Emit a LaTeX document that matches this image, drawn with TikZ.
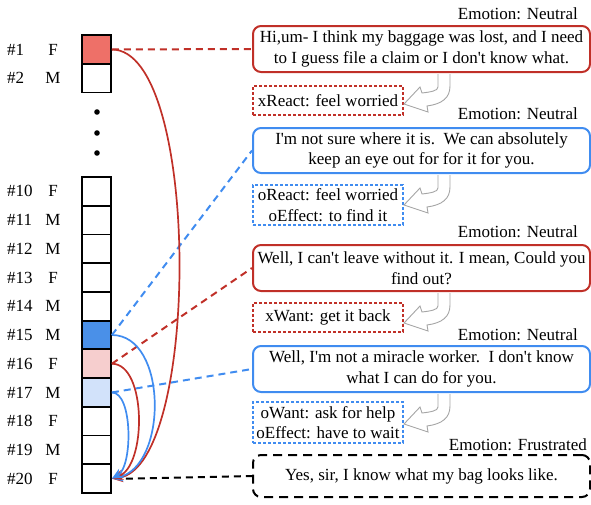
\documentclass[tikz,border=0pt]{standalone}
\usepackage{fontspec}
\setmainfont{Liberation Serif}[Ligatures=TeXOff]
\usetikzlibrary{arrows.meta}
\definecolor{cellred}{RGB}{238,112,104}
\definecolor{cellblue}{RGB}{74,144,232}
\definecolor{cellpink}{RGB}{246,206,206}
\definecolor{celllight}{RGB}{210,226,250}
\definecolor{dred}{RGB}{192,48,40}
\definecolor{dblue}{RGB}{64,140,240}
\definecolor{arrgrey}{RGB}{165,165,165}
\begin{document}
\begin{tikzpicture}[x=1pt,y=-1pt,
  every node/.style={font=\fontsize{17}{20.5}\selectfont, inner sep=0pt},
  cell/.style={draw, line width=1.8pt, minimum width=29pt, minimum height=28.7pt, fill=white},
  bigbox/.style={rounded corners=8pt, line width=2pt, minimum width=337pt, align=center},
  smallbox/.style={line width=1.1pt, dash pattern=on 3pt off 2pt, minimum width=150pt, align=center},
  conn/.style={line width=2pt, dash pattern=on 7pt off 5pt},
  curve/.style={line width=1.7pt, -{Stealth[length=11pt,width=10pt]}},
  gar/.pic={\draw[draw=arrgrey, fill=white, line width=0.9pt] (0,0) -- (0,13) .. controls (0,17) and (-8,18) .. (-16,19) -- (-18,13) -- (-34,30) -- (-10,38) -- (-11,32) .. controls (4,30) and (12,24) .. (12,12) -- (12,0);}
]
\useasboundingbox (0,0) rectangle (591,504);

% left column cells
\node[cell, fill=cellred] (c1) at (96.5,49.5) {};
\node[cell] (c2) at (96.5,78.2) {};
\foreach \k in {10,...,20}{
  \node[cell] (c\k) at (96.5,{191.35+(\k-10)*28.73}) {};
}
\node[cell, fill=cellblue] (c15) at (c15) {};
\node[cell, fill=cellpink] (c16) at (c16) {};
\node[cell, fill=celllight] (c17) at (c17) {};

% dots
\fill (97,112) circle (2.8) (97,133) circle (2.8) (97,153) circle (2.8);

% labels
\node[anchor=west] (n1) at (7,49.5) {\#1};
\node (g1) at (53,49.5) {F};
\node[anchor=west] (n2) at (7,78.2) {\#2};
\node (g2) at (53,78.2) {M};
\foreach \k/\g in {10/F,11/M,12/M,13/F,14/M,15/M,16/F,17/M,18/F,19/M,20/F}{
  \node[anchor=west] (n\k) at (7,{191.35+(\k-10)*28.73}) {\#\k};
  \node (g\k) at (53,{191.35+(\k-10)*28.73}) {\g};
}

% emotion labels
\node[anchor=east] (e1) at (578,14) {Emotion: Neutral};
\node[anchor=east] (e2) at (578,114) {Emotion: Neutral};
\node[anchor=east] (e3) at (578,232) {Emotion: Neutral};
\node[anchor=east] (e4) at (578,335) {Emotion: Neutral};
\node[anchor=east] (e5) at (587,445) {Emotion: Frustrated};

% utterance boxes
\node[bigbox, draw=dred, minimum height=46pt] (b1) at (421.5,49) {Hi,um- I think my baggage was lost, and I need\\to I guess file a claim or I don't know what.};
\node[bigbox, draw=dblue, minimum height=45pt] (b2) at (421.5,150.5) {I'm not sure where it is.\ \ We can absolutely\\keep an eye out for for it for you.};
\node[bigbox, draw=dred, minimum height=46pt] (b3) at (421.5,268) {Well, I can't leave without it. I mean, Could you\\find out?};
\node[bigbox, draw=dblue, minimum height=46pt] (b4) at (421.5,369) {Well, I'm not a miracle worker.\ \ I don't know\\what I can do for you.};
\node[bigbox, draw=black, dash pattern=on 9pt off 6pt, minimum height=42pt] (b5) at (421.5,476) {Yes, sir, I know what my bag looks like.};

% knowledge boxes
\node[smallbox, draw=dred, minimum height=29pt] (r1) at (328,100.5) {xReact: feel worried};
\node[smallbox, draw=dblue, minimum height=40pt] (r2) at (328,205) {oReact: feel worried\\oEffect: to find it};
\node[smallbox, draw=dred, minimum height=29pt] (r3) at (328,317.5) {xWant: get it back};
\node[smallbox, draw=dblue, minimum height=41pt] (r4) at (328,422.5) {oWant: ask for help\\oEffect: have to wait};

% grey hollow arrows
\pic at ([xshift=16.5pt,yshift=-1pt]b1.south) {gar};
\pic at ([xshift=16.5pt,yshift=-1pt]b2.south) {gar};
\pic at ([xshift=16.5pt,yshift=-1pt]b3.south) {gar};
\pic at ([xshift=16.5pt,yshift=-1pt]b4.south) {gar};

% dashed connectors
\draw[conn, dred] (c1.east) -- (b1.west);
\draw[conn, dblue] (c15.east) -- (b2.west);
\draw[conn, dred] (c16.east) -- (b3.west);
\draw[conn, dblue] (c17.east) -- (b4.west);
\draw[conn, black] ([xshift=14pt]c20.east) -- (b5.west);

% curved arrows into #20
\draw[curve, dred] (c1.east) .. controls +(89,0) and +(89,-12) .. (c20.east);
\draw[curve, dblue] (c15.east) .. controls +(56,0) and +(56,-12) .. (c20.east);
\draw[curve, dred] (c16.east) .. controls +(35,0) and +(35,-12) .. (c20.east);
\draw[curve, dblue] (c17.east) .. controls +(21,0) and +(21,-12) .. (c20.east);
\end{tikzpicture}
\end{document}
